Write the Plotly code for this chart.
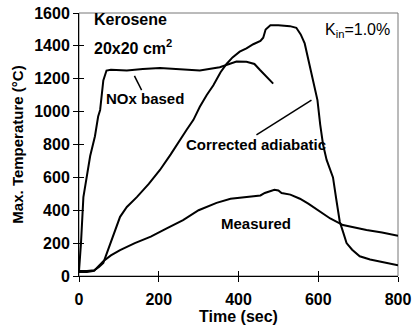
import plotly.graph_objects as go

# Data
nox_t = [0, 5, 11, 20, 28, 40, 48, 53, 61, 69, 80, 120, 160, 203, 250, 303, 353, 395, 420, 440, 454, 470, 487]
nox_T = [30, 200, 480, 620, 730, 850, 970, 1010, 1190, 1250, 1255, 1250, 1260, 1265, 1258, 1250, 1270, 1305, 1303, 1290, 1253, 1215, 1170]

adi_t = [0, 20, 38, 50, 61, 70, 78, 90, 103, 120, 145, 175, 203, 230, 253, 270, 287, 303, 320, 337, 355, 370, 385, 403, 420, 437, 455, 462, 468, 480, 500, 529, 545, 556, 566, 579, 590, 598, 605, 612, 621, 630, 637, 645, 654, 662, 671, 685, 704, 730, 760, 800]
adi_T = [30, 30, 35, 55, 80, 140, 200, 280, 360, 420, 480, 560, 645, 740, 830, 890, 950, 1030, 1100, 1160, 1240, 1290, 1330, 1365, 1385, 1410, 1430, 1450, 1500, 1525, 1525, 1520, 1510, 1470, 1415, 1275, 1170, 1070, 920, 800, 706, 650, 600, 470, 330, 270, 200, 160, 120, 100, 85, 65]

meas_t = [0, 20, 38, 50, 61, 80, 103, 140, 180, 220, 261, 300, 345, 380, 428, 455, 466, 490, 500, 508, 530, 554, 575, 596, 630, 662, 700, 721, 760, 800]
meas_T = [25, 25, 32, 60, 90, 125, 158, 200, 240, 290, 340, 400, 445, 470, 485, 490, 505, 525, 520, 505, 495, 470, 440, 405, 350, 310, 290, 280, 265, 245]

x_ticks = [0, 200, 400, 600, 800]
y_ticks = [0, 200, 400, 600, 800, 1000, 1200, 1400, 1600]

FONT = "Liberation Sans, Arial, sans-serif"
line = dict(color="black", width=2)

fig = go.Figure()
for t, T in [(nox_t, nox_T), (adi_t, adi_T), (meas_t, meas_T)]:
    fig.add_trace(go.Scatter(x=t, y=T, mode="lines", line=line, showlegend=False, hoverinfo="skip"))

fig.add_trace(go.Scatter(x=[0], y=[0], xaxis="x2", yaxis="y2", mode="markers",
                         marker=dict(opacity=0), showlegend=False, hoverinfo="skip"))

tickfont = dict(family=FONT, size=16, color="black")
fig.update_layout(
    width=417, height=332,
    margin=dict(l=79, r=19, t=13, b=56),
    paper_bgcolor="white", plot_bgcolor="white",
    font=dict(family=FONT, color="black"),
    xaxis=dict(range=[0, 800], tickvals=x_ticks, ticktext=["<b>%d</b>" % v for v in x_ticks],
               ticks="outside", ticklen=5, tickwidth=1, ticklabelstandoff=4,
               tickcolor="black", showgrid=False, zeroline=False, showline=True,
               linecolor="black", linewidth=1, tickfont=tickfont, automargin=False,
               title=dict(text="<b>Time (sec)</b>", font=dict(family=FONT, size=16), standoff=0)),
    yaxis=dict(range=[0, 1600], tickvals=y_ticks, ticktext=["<b>%d</b>" % v for v in y_ticks],
               ticks="outside", ticklen=5, tickwidth=1,
               tickcolor="black", showgrid=False, zeroline=False, showline=True,
               linecolor="black", linewidth=1, tickfont=tickfont, automargin=False,
               title=dict(text="<b>Max. Temperature (°C)</b>", font=dict(family=FONT, size=15), standoff=6)),
    xaxis2=dict(range=[0, 800], tickvals=x_ticks, ticks="inside", ticklen=5, tickcolor="black",
                showticklabels=False, showgrid=False, zeroline=False, overlaying="x", side="bottom"),
    yaxis2=dict(range=[0, 1600], tickvals=y_ticks, ticks="inside", ticklen=5, tickcolor="black",
                showticklabels=False, showgrid=False, zeroline=False, overlaying="y", side="left"),
)

# frame
fig.add_shape(type="rect", xref="paper", yref="paper", x0=0, y0=0, x1=1, y1=1,
              line=dict(color="#777777", width=1), layer="below")

def txt(x, y, s, size, xanchor="center"):
    fig.add_annotation(x=x, y=y, text=s, showarrow=False,
                       font=dict(family=FONT, size=size, color="black"),
                       xanchor=xanchor, yanchor="middle")

txt(33, 1563, "<b>Kerosene</b>", 16, "left")
txt(33, 1393, "<b>20x20 cm<sup>2</sup></b>", 16, "left")
txt(785, 1495, "K<sub>in</sub>=1.0%", 16, "right")
txt(165, 1077, "<b>NOx based</b>", 15)
txt(444, 797, "<b>Corrected adiabatic</b>", 15)
txt(445, 322, "<b>Measured</b>", 15)

# leader lines
fig.add_shape(type="line", x0=139, y0=1217, x1=157, y1=1131, line=dict(color="black", width=1.5))
fig.add_shape(type="line", x0=445, y0=858, x1=583, y1=1070, line=dict(color="black", width=1.5))

fig.write_html("out.html", config={"displayModeBar": False},
               post_script="document.body.style.margin='0';")
